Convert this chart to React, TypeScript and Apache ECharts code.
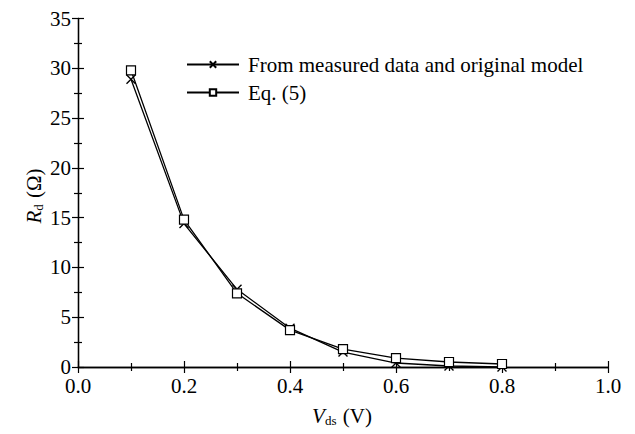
import React, { useEffect, useRef } from "react";
import * as echarts from "echarts";

const xValues = [0.1, 0.2, 0.3, 0.4, 0.5, 0.6, 0.7, 0.8];
const measured = [28.9, 14.4, 7.8, 3.9, 1.5, 0.4, 0.1, 0.0];
const eq5 = [29.8, 14.8, 7.4, 3.7, 1.8, 0.9, 0.5, 0.3];
const seriesNames = ["From measured data and original model", "Eq. (5)"];

const FONT = "Liberation Serif, Times New Roman, serif";
const crossPath = "path://M0,0L10,10M10,0L0,10";

export default function App() {
  const ref = useRef<HTMLDivElement>(null);
  useEffect(() => {
    if (!ref.current) return;
    const chart = echarts.init(ref.current, null, { renderer: "svg" });
    const axisCommon = {
      axisLine: { lineStyle: { color: "#000", width: 1.3 } },
      axisTick: { inside: true, length: 6, lineStyle: { color: "#000", width: 1.2 } },
      minorTick: { show: true, splitNumber: 2, length: 4, lineStyle: { color: "#000", width: 1.2 } },
      splitLine: { show: false },
    };
    const mk = (arr: number[]) => xValues.map((x, i) => [x, arr[i]]);
    const rich = {
      i: { fontFamily: FONT, fontSize: 21, fontStyle: "italic", color: "#000" },
      s: { fontFamily: FONT, fontSize: 13, color: "#000", padding: [9, 1, 0, 0] },
      n: { fontFamily: FONT, fontSize: 21, color: "#000" },
    };
    chart.setOption({
      animation: false,
      backgroundColor: "#fff",
      textStyle: { fontFamily: FONT },
      grid: { left: 70, right: 27, top: 9, bottom: 67, containLabel: false },
      xAxis: [
        {
          ...axisCommon,
          type: "value",
          min: 0,
          max: 1,
          interval: 0.2,
          axisLabel: {
            color: "#000",
            fontFamily: FONT,
            fontSize: 21,
            lineHeight: 18,
            margin: 10,
            formatter: (v: number) => v.toFixed(1),
          },
        },
        {
          ...axisCommon,
          type: "value",
          position: "top",
          min: 0,
          max: 1,
          interval: 0.2,
          axisLabel: { show: false },
        },
      ],
      yAxis: [
        {
          ...axisCommon,
          type: "value",
          min: 0,
          max: 35,
          interval: 5,
          axisLabel: { color: "#000", fontFamily: FONT, fontSize: 21, lineHeight: 18, margin: 7 },
        },
        {
          ...axisCommon,
          type: "value",
          position: "right",
          min: 0,
          max: 35,
          interval: 5,
          axisLabel: { show: false },
        },
      ],
      legend: {
        left: 173,
        top: 41,
        orient: "vertical",
        itemWidth: 52,
        itemHeight: 8,
        itemGap: 7,
        textStyle: { color: "#000", fontFamily: FONT, fontSize: 21, padding: [0, 0, 0, 4] },
        data: seriesNames,
      },
      series: [
        {
          name: seriesNames[0],
          type: "line",
          data: mk(measured),
          symbol: crossPath,
          symbolSize: 9,
          lineStyle: { color: "#000", width: 1.3 },
          itemStyle: { color: "#000", borderColor: "#000", borderWidth: 1.4 },
          z: 2,
        },
        {
          name: seriesNames[1],
          type: "line",
          data: mk(eq5),
          symbol: "rect",
          symbolSize: 9,
          lineStyle: { color: "#000", width: 1.3 },
          itemStyle: { color: "#fff", borderColor: "#000", borderWidth: 1.2 },
          z: 3,
        },
      ],
      graphic: [
        {
          type: "text",
          x: 334,
          y: 408,
          style: {
            text: "{i|V}{s|ds}{n| (V)}",
            align: "center",
            verticalAlign: "middle",
            fontFamily: FONT,
            rich,
          },
        },
        {
          type: "text",
          x: 26,
          y: 188,
          rotation: Math.PI / 2,
          style: {
            text: "{i|R}{s|d}{n| (Ω)}",
            align: "center",
            verticalAlign: "middle",
            fontFamily: FONT,
            rich,
          },
        },
      ],
    });
    return () => chart.dispose();
  }, []);
  return <div ref={ref} style={{ width: 627, height: 426 }} />;
}
